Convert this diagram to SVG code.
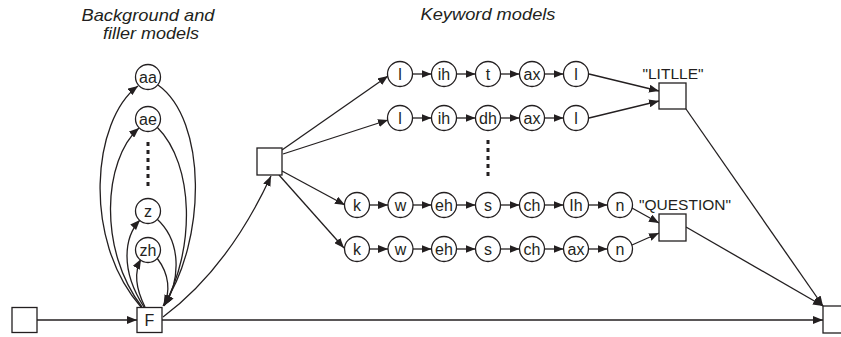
<svg xmlns="http://www.w3.org/2000/svg" width="841" height="337" viewBox="0 0 841 337">
<style>
.n{fill:#fff;stroke:#231f20;stroke-width:1.3}
.t{font-family:"Liberation Sans",Arial,sans-serif;font-size:16px;fill:#231f20;text-anchor:middle}
.q{font-family:"Liberation Sans",Arial,sans-serif;font-size:15.5px;fill:#231f20;text-anchor:middle}
.h{font-family:"Liberation Sans",Arial,sans-serif;font-size:17px;font-style:italic;fill:#231f20;text-anchor:middle}
.c path,.c line{fill:none;stroke:#231f20;stroke-width:1.3;marker-end:url(#a)}
.d{stroke:#231f20;stroke-width:3;stroke-dasharray:4,4;fill:none}
</style>
<defs>
<marker id="a" viewBox="0 0 10 8" refX="10" refY="4" markerWidth="10" markerHeight="8" markerUnits="userSpaceOnUse" orient="auto">
<path d="M0,0 L10,4 L0,8 z" fill="#231f20"/>
</marker>
</defs>
<rect width="841" height="337" fill="#fff"/>
<text class="h" x="148" y="21" textLength="133" lengthAdjust="spacingAndGlyphs">Background and</text>
<text class="h" x="151" y="39" textLength="96" lengthAdjust="spacingAndGlyphs">filler models</text>
<text class="h" x="488" y="20" textLength="135" lengthAdjust="spacingAndGlyphs">Keyword models</text>

<g class="c" id="connectors">
<line x1="37" y1="320" x2="137" y2="320"/>
<line x1="162" y1="320" x2="823" y2="320"/>
<path d="M141 307 C82 240 92 120 138 86"/>
<path d="M158 85 C207 120 207 240 163 306"/>
<path d="M142 307 C98 250 103 160 139 128"/>
<path d="M157 127 C195 165 195 250 164 306"/>
<path d="M144 307 C120 270 124 237 140 220"/>
<path d="M157 219 C182 242 180 280 165 305"/>
<path d="M145 307 C135 287 134 272 141 259"/>
<path d="M157 258 C170 275 170 292 164 305"/>
<path d="M163 317 C210 282 245 232 271 176"/>
<line x1="282" y1="150" x2="388" y2="76"/>
<line x1="283" y1="154" x2="388" y2="120"/>
<line x1="282" y1="171" x2="345" y2="205"/>
<line x1="279" y1="175" x2="344" y2="248"/>
<line x1="412.5" y1="74" x2="431.5" y2="74"/>
<line x1="456.5" y1="74" x2="475.5" y2="74"/>
<line x1="500.5" y1="74" x2="519.5" y2="74"/>
<line x1="544.5" y1="74" x2="563.5" y2="74"/>
<line x1="412.5" y1="118" x2="431.5" y2="118"/>
<line x1="456.5" y1="118" x2="475.5" y2="118"/>
<line x1="500.5" y1="118" x2="519.5" y2="118"/>
<line x1="544.5" y1="118" x2="563.5" y2="118"/>
<line x1="369.5" y1="205" x2="388" y2="205"/>
<line x1="413" y1="205" x2="431.5" y2="205"/>
<line x1="456.5" y1="205" x2="475.5" y2="205"/>
<line x1="500.5" y1="205" x2="519.5" y2="205"/>
<line x1="544.5" y1="205" x2="563.5" y2="205"/>
<line x1="588.5" y1="205" x2="607.5" y2="205"/>
<line x1="369.5" y1="249" x2="388" y2="249"/>
<line x1="413" y1="249" x2="431.5" y2="249"/>
<line x1="456.5" y1="249" x2="475.5" y2="249"/>
<line x1="500.5" y1="249" x2="519.5" y2="249"/>
<line x1="544.5" y1="249" x2="563.5" y2="249"/>
<line x1="588.5" y1="249" x2="607.5" y2="249"/>
<line x1="589" y1="74" x2="659" y2="91"/>
<line x1="589" y1="118" x2="659" y2="101"/>
<line x1="632" y1="208" x2="659" y2="223"/>
<line x1="632" y1="245" x2="659" y2="233"/>
<line x1="686" y1="109" x2="823" y2="306"/>
<line x1="686" y1="227" x2="823" y2="306"/>
</g>
<path class="d" d="M148 142 V188"/>
<path class="d" d="M488 140 V180"/>

<g id="start"><rect class="n" x="12" y="307.5" width="25" height="25"/></g>
<g id="F"><rect class="n" x="137" y="307.5" width="25" height="25"/><text class="t" x="149.5" y="326">F</text></g>
<g id="hub"><rect class="n" x="257" y="148" width="25" height="27"/></g>
<g id="litlle"><rect class="n" x="659" y="83" width="27" height="26"/><text class="q" x="673" y="79">"LITLLE"</text></g>
<g id="question"><rect class="n" x="659" y="214" width="27" height="27"/><text class="q" x="685" y="210">"QUESTION"</text></g>
<g id="end"><rect class="n" x="823" y="306" width="27" height="27"/></g>

<g id="bg-aa"><circle class="n" cx="148" cy="77" r="12.5"/><text class="t" x="148" y="82.5">aa</text></g>
<g id="bg-ae"><circle class="n" cx="148" cy="119" r="12.5"/><text class="t" x="148" y="124.5">ae</text></g>
<g id="bg-z"><circle class="n" cx="148" cy="211" r="12.5"/><text class="t" x="148" y="216.5">z</text></g>
<g id="bg-zh"><circle class="n" cx="148" cy="250" r="12.5"/><text class="t" x="148" y="255.5">zh</text></g>

<g id="r1-l"><circle class="n" cx="400" cy="74" r="12.5"/><text class="t" x="400" y="79.5">l</text></g>
<g id="r1-ih"><circle class="n" cx="444" cy="74" r="12.5"/><text class="t" x="444" y="79.5">ih</text></g>
<g id="r1-t"><circle class="n" cx="488" cy="74" r="12.5"/><text class="t" x="488" y="79.5">t</text></g>
<g id="r1-ax"><circle class="n" cx="532" cy="74" r="12.5"/><text class="t" x="532" y="79.5">ax</text></g>
<g id="r1-l2"><circle class="n" cx="576" cy="74" r="12.5"/><text class="t" x="576" y="79.5">l</text></g>

<g id="r2-l"><circle class="n" cx="400" cy="118" r="12.5"/><text class="t" x="400" y="123.5">l</text></g>
<g id="r2-ih"><circle class="n" cx="444" cy="118" r="12.5"/><text class="t" x="444" y="123.5">ih</text></g>
<g id="r2-dh"><circle class="n" cx="488" cy="118" r="12.5"/><text class="t" x="488" y="123.5">dh</text></g>
<g id="r2-ax"><circle class="n" cx="532" cy="118" r="12.5"/><text class="t" x="532" y="123.5">ax</text></g>
<g id="r2-l2"><circle class="n" cx="576" cy="118" r="12.5"/><text class="t" x="576" y="123.5">l</text></g>

<g id="r3-k"><circle class="n" cx="357" cy="205" r="12.5"/><text class="t" x="357" y="210.5">k</text></g>
<g id="r3-w"><circle class="n" cx="400.5" cy="205" r="12.5"/><text class="t" x="400.5" y="210.5">w</text></g>
<g id="r3-eh"><circle class="n" cx="444" cy="205" r="12.5"/><text class="t" x="444" y="210.5">eh</text></g>
<g id="r3-s"><circle class="n" cx="488" cy="205" r="12.5"/><text class="t" x="488" y="210.5">s</text></g>
<g id="r3-ch"><circle class="n" cx="532" cy="205" r="12.5"/><text class="t" x="532" y="210.5">ch</text></g>
<g id="r3-lh"><circle class="n" cx="576" cy="205" r="12.5"/><text class="t" x="576" y="210.5">Ih</text></g>
<g id="r3-n"><circle class="n" cx="620" cy="205" r="12.5"/><text class="t" x="620" y="210.5">n</text></g>

<g id="r4-k"><circle class="n" cx="357" cy="249" r="12.5"/><text class="t" x="357" y="254.5">k</text></g>
<g id="r4-w"><circle class="n" cx="400.5" cy="249" r="12.5"/><text class="t" x="400.5" y="254.5">w</text></g>
<g id="r4-eh"><circle class="n" cx="444" cy="249" r="12.5"/><text class="t" x="444" y="254.5">eh</text></g>
<g id="r4-s"><circle class="n" cx="488" cy="249" r="12.5"/><text class="t" x="488" y="254.5">s</text></g>
<g id="r4-ch"><circle class="n" cx="532" cy="249" r="12.5"/><text class="t" x="532" y="254.5">ch</text></g>
<g id="r4-ax"><circle class="n" cx="576" cy="249" r="12.5"/><text class="t" x="576" y="254.5">ax</text></g>
<g id="r4-n"><circle class="n" cx="620" cy="249" r="12.5"/><text class="t" x="620" y="254.5">n</text></g>
</svg>
